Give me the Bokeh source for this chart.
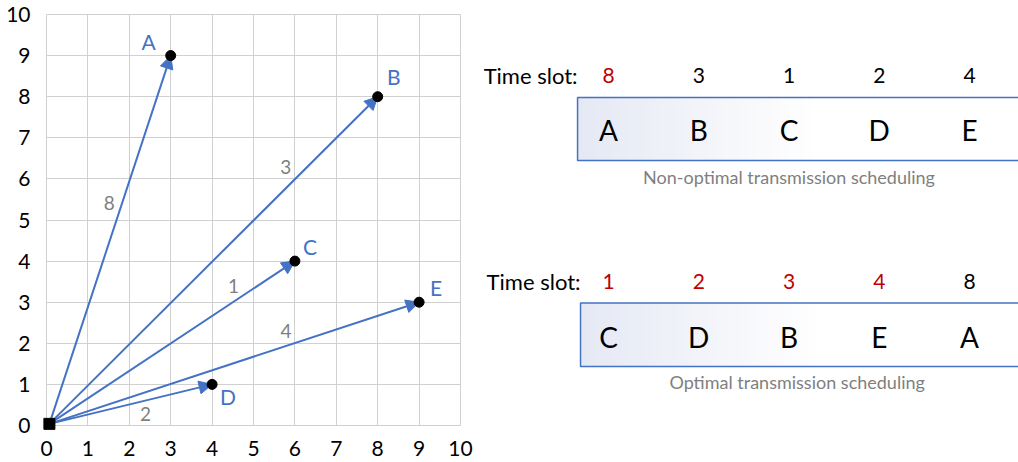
from bokeh.plotting import figure
from bokeh.models import ColumnDataSource, Arrow, NormalHead, Range1d
from bokeh.layouts import row
from bokeh.core.properties import value
from bokeh.embed import file_html
from bokeh.resources import INLINE

# ---------------- data ----------------
nodes = ["A", "B", "C", "D", "E"]
node_x = [3, 8, 6, 4, 9]
node_y = [9, 8, 4, 1, 3]
node_slot = [8, 3, 1, 2, 4]
source_x = 0.07
source_y = 0.04
ticks = [0, 1, 2, 3, 4, 5, 6, 7, 8, 9, 10]

order_nonopt = ["A", "B", "C", "D", "E"]
order_opt = ["C", "D", "B", "E", "A"]
highlight_nonopt = [True, False, False, False, False]
highlight_opt = [True, True, True, True, False]
captions = ["Non-optimal transmission scheduling", "Optimal transmission scheduling"]

# ---------------- style ----------------
FONT = value("Lato")
BLUE = "#4472C4"
RED = "#C00000"
GRAY = "#7f7f7f"
GRID = "#d0d0d0"

TOP_B, BOT_B, H = 14, 37, 462

# ---------------- left chart ----------------
p = figure(width=474, height=H, x_range=Range1d(0, 10), y_range=Range1d(0, 10),
           output_backend="svg", toolbar_location=None, align="start",
           min_border_left=46, min_border_right=14, min_border_top=TOP_B, min_border_bottom=BOT_B)
for ax in (p.xaxis[0], p.yaxis[0]):
    ax.ticker = ticks
    ax.major_label_text_font = "Lato"
    ax.major_label_text_font_size = "21px"
    ax.major_label_text_color = "black"
    ax.major_tick_line_color = None
    ax.minor_tick_line_color = None
    ax.axis_line_color = None
p.xaxis.major_label_standoff = 9
p.yaxis.major_label_standoff = 10
p.grid.grid_line_color = GRID
p.grid.grid_line_width = 1
p.outline_line_color = GRID

arrow_src = ColumnDataSource(dict(x0=[source_x] * len(nodes), y0=[source_y] * len(nodes),
                                  x1=node_x, y1=node_y))
p.add_layout(Arrow(end=NormalHead(size=13, fill_color=BLUE, line_color=BLUE, line_width=1),
                   x_start="x0", y_start="y0", x_end="x1", y_end="y1",
                   source=arrow_src, line_color=BLUE, line_width=2))

p.scatter(node_x, node_y, size=10, color="black", level="overlay")
p.scatter([source_x], [source_y], marker="square", size=11, color="black", level="overlay")

# node letters
lab_dx = [-22, 16, 15, 16, 17]
lab_dy = [-14, -20, -15, 12, -15]
p.text(x=node_x, y=node_y, text=nodes, x_offset=lab_dx, y_offset=lab_dy,
       text_align="center", text_baseline="middle", text_font=FONT,
       text_font_size="21px", text_color=BLUE)

# time-slot labels along arrows
t_along = [0.6, 0.72, 0.75, 0.59, 0.64]
w_dx = [-13, 0, 0, 0, 0]
w_dy = [0, -21, -16, 13, -15]
wx = [source_x + t * (x - source_x) for t, x in zip(t_along, node_x)]
wy = [source_y + t * (y - source_y) for t, y in zip(t_along, node_y)]
p.text(x=wx, y=wy, text=[str(s) for s in node_slot], x_offset=w_dx, y_offset=w_dy,
       text_align="center", text_baseline="middle", text_font=FONT,
       text_font_size="19px", text_color=GRAY)

# ---------------- right schematic ----------------
# (row layouts align plot frames, so this frame spans the same rows as the left one)
q = figure(width=544, height=H, x_range=Range1d(-1.485, 4.543),
           y_range=Range1d(H - BOT_B, TOP_B),
           output_backend="svg", toolbar_location=None, min_border=0, align="start")
q.xaxis.visible = False
q.yaxis.visible = False
q.grid.visible = False
q.outline_line_color = None

slot_of = dict(zip(nodes, node_slot))
blocks = [
    dict(order=order_nonopt, hl=highlight_nonopt, cap=captions[0],
         row_y=75, top=97, bot=160, let_y=129, cap_y=176, cap_x=2.0, left=-0.343),
    dict(order=order_opt, hl=highlight_opt, cap=captions[1],
         row_y=281, top=302.5, bot=366, let_y=336, cap_y=381, cap_x=2.09, left=-0.31),
]

def mix(c1, c2, f):
    a = [int(c1[i:i + 2], 16) for i in (1, 3, 5)]
    b = [int(c2[i:i + 2], 16) for i in (1, 3, 5)]
    return "#%02x%02x%02x" % tuple(round(a[k] + (b[k] - a[k]) * f) for k in range(3))

for b in blocks:
    pos = list(range(len(b["order"])))
    # gradient fill
    n = 30
    span = 2.6
    for k in range(n):
        f = k / (n - 1)
        q.quad(left=b["left"] + f * span, right=5, top=b["top"], bottom=b["bot"],
               fill_color=mix("#e5e9f4", "#ffffff", f), line_color=None)
    q.quad(left=b["left"], right=5, top=b["top"], bottom=b["bot"],
           fill_color=None, line_color=BLUE, line_width=1.5)
    q.text(x=[b["left"]], y=[b["row_y"]], text=["Time slot:"], text_align="right",
           text_baseline="middle", text_font=FONT, text_font_size="22px", text_color="black")
    q.text(x=pos, y=[b["row_y"]] * len(pos), text=[str(slot_of[c]) for c in b["order"]],
           text_align="center", text_baseline="middle", text_font=FONT, text_font_size="21px",
           text_color=[RED if h else "black" for h in b["hl"]])
    q.text(x=pos, y=[b["let_y"]] * len(pos), text=b["order"], text_align="center",
           text_baseline="middle", text_font=FONT, text_font_size="28px", text_color="black")
    q.text(x=[b["cap_x"]], y=[b["cap_y"]], text=[b["cap"]], text_align="center",
           text_baseline="middle", text_font=FONT, text_font_size="18px", text_color=GRAY)

layout = row(p, q)
open("out.html", "w").write(file_html(layout, INLINE))
